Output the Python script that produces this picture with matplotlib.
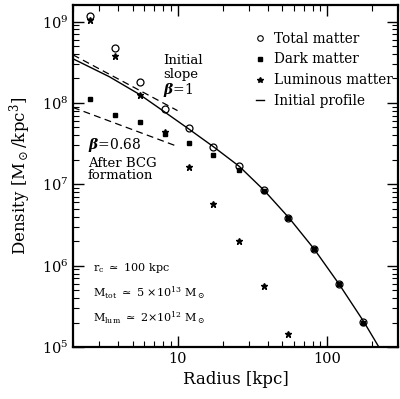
import numpy as np
import matplotlib
matplotlib.use('Agg')
import matplotlib.pyplot as plt
from matplotlib.lines import Line2D

plt.rcParams['font.family'] = 'DejaVu Serif'
plt.rcParams['mathtext.fontset'] = 'dejavuserif'

# radii of the shells [kpc]
radius = [2.59, 3.80, 5.58, 8.19, 12.0, 17.4, 25.9, 38.0, 55.0, 81.9, 120, 174]
# densities [Msun/kpc^3]
rho_total = [1.17e9, 4.76e8, 1.83e8, 8.5e7, 4.86e7, 2.85e7, 1.66e7, 8.4e6,
             3.83e6, 1.6e6, 5.97e5, 2.05e5]
rho_dark = [1.13e8, 7.2e7, 5.9e7, 4.2e7, 3.2e7, 2.27e7, 1.48e7, 8.2e6,
            3.8e6, 1.58e6, 5.9e5, 2.0e5]
radius_lum = [2.59, 3.80, 5.58, 8.19, 12.0, 17.4, 25.9, 38.0, 55.0]
rho_lum = [1.05e9, 3.8e8, 1.27e8, 4.35e7, 1.62e7, 5.7e6, 2.0e6, 5.6e5, 1.46e5]

# initial profile
prof_r = [2.0, 3.5, 5.58, 8.0, 12.0, 17.6, 25.9, 38.0, 55.9, 82.0, 120, 176, 222, 245]
prof_rho = [3.49e8, 2.1e8, 1.27e8, 8.0e7, 4.73e7, 2.85e7, 1.66e7, 8.4e6,
            3.83e6, 1.6e6, 5.97e5, 2.05e5, 1.0e5, 7.6e4]

# inner slope guides
slope1_r = [2.0, 10.0]
slope1_rho = [3.9e8, 8.05e7]
slope068_r = [2.0, 10.0]
slope068_rho = [8.8e7, 2.92e7]

fig = plt.figure(figsize=(4.0, 3.99), dpi=100)
ax = fig.add_axes([0.1825, 0.1303, 0.8135, 0.8572])

ax.plot(prof_r, prof_rho, color='black', lw=1.0, zorder=2)
ax.plot(slope1_r, slope1_rho, color='black', lw=0.9, dashes=(5.5, 3.5))
ax.plot(slope068_r, slope068_rho, color='black', lw=0.9, dashes=(5.5, 3.5))

ax.plot(radius, rho_dark, ls='none', marker='s', ms=3.2, color='black', zorder=3)
ax.plot(radius_lum, rho_lum, ls='none', marker='*', ms=4.5, color='black', zorder=3)
ax.plot(radius, rho_total, ls='none', marker='o', ms=5, mfc='none', mec='black',
        mew=0.9, zorder=4)

ax.set_xscale('log')
ax.set_yscale('log')
ax.set_xlim(2, 300)
ax.set_ylim(1e5, 1.6e9)
ax.set_xticks([10, 100], ['10', '100'])

ax.tick_params(which='both', direction='in', top=True, right=True, labelsize=10.5)
ax.tick_params(which='major', length=8, width=1)
ax.tick_params(which='minor', length=4, width=0.8)
for sp in ax.spines.values():
    sp.set_linewidth(1.6)

ax.set_xlabel('Radius [kpc]', fontsize=12, labelpad=4)
ax.set_ylabel(r'Density [M$_\odot$/kpc$^3$]', fontsize=12, labelpad=6)

handles = [
    Line2D([], [], ls='none', marker='o', ms=4, mfc='none', mec='black', mew=0.8),
    Line2D([], [], ls='none', marker='s', ms=3.2, color='black'),
    Line2D([], [], ls='none', marker='*', ms=4, color='black'),
    Line2D([], [], color='black', lw=1.0),
]
labels = ['Total matter', 'Dark matter', 'Luminous matter', 'Initial profile']
ax.legend(handles, labels, loc='upper left', bbox_to_anchor=(0.562, 0.922),
          frameon=False, fontsize=9.8, handlelength=0.6, handletextpad=0.75,
          labelspacing=0.5, borderpad=0, borderaxespad=0)

ax.text(0.277, 0.838, 'Initial', transform=ax.transAxes, fontsize=9.5, va='center')
ax.text(0.277, 0.798, 'slope', transform=ax.transAxes, fontsize=9.5, va='center')
ax.text(0.277, 0.752, r'$\boldsymbol{\beta}$=1', transform=ax.transAxes, fontsize=10, va='center')
ax.text(0.045, 0.591, r'$\boldsymbol{\beta}$=0.68', transform=ax.transAxes, fontsize=10, va='center')
ax.text(0.045, 0.538, 'After BCG', transform=ax.transAxes, fontsize=9.5, va='center')
ax.text(0.045, 0.500, 'formation', transform=ax.transAxes, fontsize=9.5, va='center')

ax.text(0.061, 0.231, r'r$_{\rm c}$ $\simeq$ 100 kpc', transform=ax.transAxes,
        fontsize=8, va='center')
ax.text(0.061, 0.158, r'M$_{\rm tot}$ $\simeq$ 5 $\times$10$^{13}$ M$_\odot$',
        transform=ax.transAxes, fontsize=8, va='center')
ax.text(0.061, 0.085, r'M$_{\rm lum}$ $\simeq$ 2$\times$10$^{12}$ M$_\odot$',
        transform=ax.transAxes, fontsize=8, va='center')

fig.savefig('out.png', dpi=100)
